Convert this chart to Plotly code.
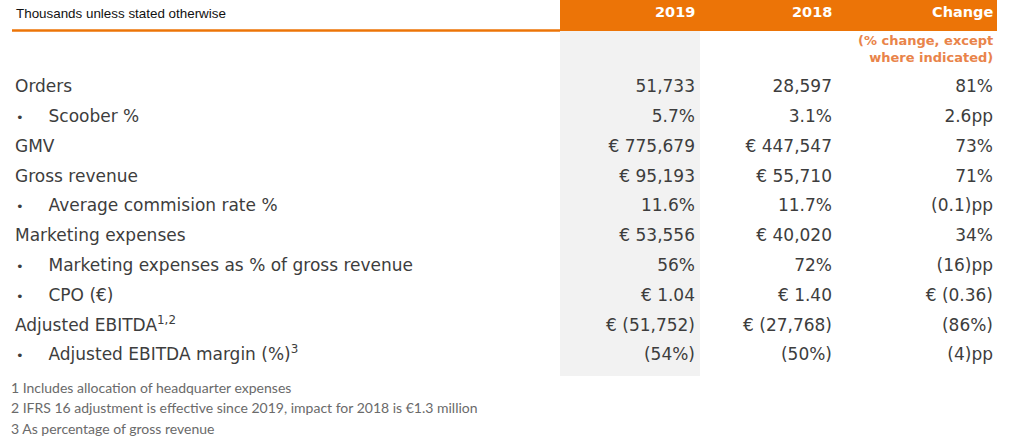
import plotly.graph_objects as go

labels = ["Orders", "Scoober %", "GMV", "Gross revenue", "Average commision rate %",
          "Marketing expenses", "Marketing expenses as % of gross revenue", "CPO (€)",
          "Adjusted EBITDA<sup>1,2</sup>", "Adjusted EBITDA margin (%)<sup>3</sup>"]
bullet = [False, True, False, False, True, False, True, True, False, True]
v2019 = ["51,733", "5.7%", "€ 775,679", "€ 95,193", "11.6%", "€ 53,556", "56%",
         "€ 1.04", "€ (51,752)", "(54%)"]
v2018 = ["28,597", "3.1%", "€ 447,547", "€ 55,710", "11.7%", "€ 40,020", "72%",
         "€ 1.40", "€ (27,768)", "(50%)"]
change = ["81%", "2.6pp", "73%", "71%", "(0.1)pp", "34%", "(16)pp", "€ (0.36)",
          "(86%)", "(4)pp"]
columns = ["2019", "2018", "Change"]
footnotes = ["1 Includes allocation of headquarter expenses",
             "2 IFRS 16 adjustment is effective since 2019, impact for 2018 is €1.3 million",
             "3 As percentage of gross revenue"]

ORANGE = "#EC7407"
TXT = "#3d3d3d"
body_font = dict(family="DejaVu Sans", size=17, color=TXT)

row_y = [88 + 29.8 * i for i in range(len(labels))]
col_x = [695, 832, 993]

fig = go.Figure()

# grey band behind 2019 column, orange header bar and rule
fig.add_shape(type="rect", x0=560, x1=700, y0=31, y1=376, fillcolor="#F2F2F2", line_width=0, layer="below")
fig.add_shape(type="rect", x0=560, x1=997, y0=0, y1=31, fillcolor=ORANGE, line_width=0, layer="below")
fig.add_shape(type="line", x0=12, x1=560, y0=30.5, y1=30.5, line=dict(color=ORANGE, width=2.5))

# row labels
main_idx = [i for i, b in enumerate(bullet) if not b]
sub_idx = [i for i, b in enumerate(bullet) if b]
fig.add_trace(go.Scatter(x=[15] * len(main_idx), y=[row_y[i] for i in main_idx],
                         text=[labels[i] for i in main_idx], mode="text",
                         textposition="middle right", textfont=body_font))
fig.add_trace(go.Scatter(x=[16] * len(sub_idx), y=[row_y[i] + 1 for i in sub_idx],
                         text=["•"] * len(sub_idx), mode="text",
                         textposition="middle right",
                         textfont=dict(family="DejaVu Sans", size=13, color=TXT)))
fig.add_trace(go.Scatter(x=[48.5] * len(sub_idx), y=[row_y[i] for i in sub_idx],
                         text=[labels[i] for i in sub_idx], mode="text",
                         textposition="middle right", textfont=body_font))

# value columns
for cx, vals in zip(col_x, [v2019, v2018, change]):
    fig.add_trace(go.Scatter(x=[cx] * len(vals), y=row_y, text=vals, mode="text",
                             textposition="middle left", textfont=body_font))

# header
fig.add_annotation(x=14, y=13, text="Thousands unless stated otherwise", showarrow=False,
                   xanchor="left", yanchor="middle",
                   font=dict(family="Liberation Sans", size=13.4, color="#111111"))
for cx, name in zip(col_x, columns):
    fig.add_annotation(x=cx + 2, y=12, text="<b>" + name + "</b>", showarrow=False,
                       xanchor="right", yanchor="middle",
                       font=dict(family="DejaVu Sans", size=14.5, color="white"))
fig.add_annotation(x=995, y=49, text="<b>(% change, except<br>where indicated)</b>",
                   showarrow=False, xanchor="right", yanchor="middle", align="right",
                   font=dict(family="DejaVu Sans", size=13, color="#E9844A"))

# footnotes
for i, note in enumerate(footnotes):
    fig.add_annotation(x=9, y=387 + 20.5 * i, text=note, showarrow=False,
                       xanchor="left", yanchor="middle",
                       font=dict(family="Lato", size=14, color="#6a6a6a"))

fig.update_layout(
    width=1009, height=446,
    margin=dict(l=0, r=0, t=0, b=0),
    plot_bgcolor="white", paper_bgcolor="white",
    showlegend=False, hovermode=False,
    xaxis=dict(range=[0, 1009], visible=False, fixedrange=True),
    yaxis=dict(range=[446, 0], visible=False, fixedrange=True),
)

# drop the default page margin so the chart sits flush with the window
fig.write_html("out.html", config={"displayModeBar": False},
               post_script="document.body.style.margin='0';")
